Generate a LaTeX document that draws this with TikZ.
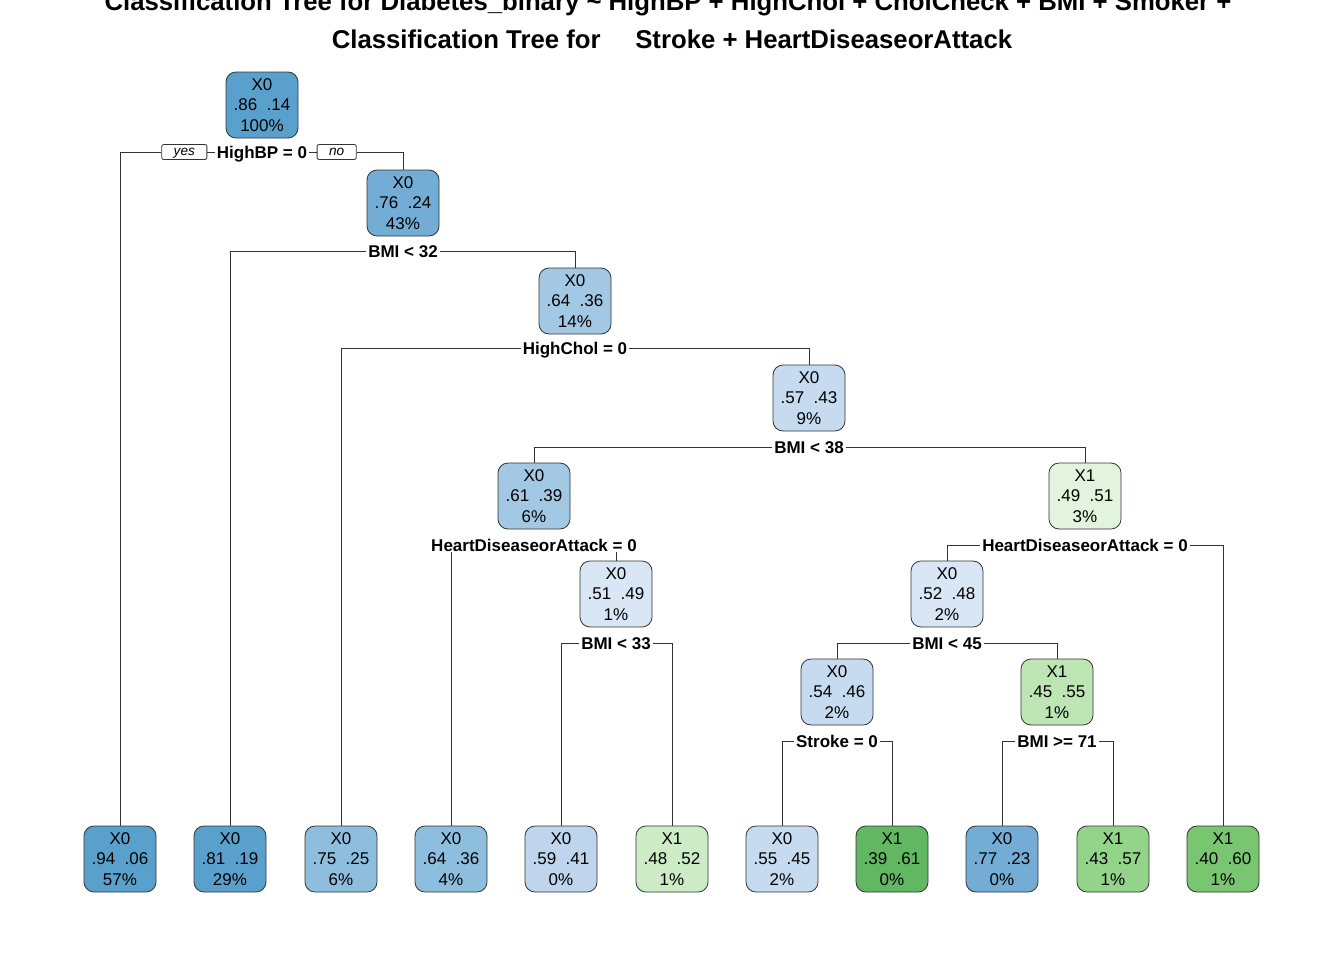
\documentclass[tikz,border=0pt]{standalone}
\usepackage{fontspec}
\setmainfont{Liberation Sans}
\usetikzlibrary{positioning}
\definecolor{blA}{RGB}{90,160,205}
\definecolor{blB}{RGB}{115,173,213}
\definecolor{blC}{RGB}{142,190,221}
\definecolor{blD}{RGB}{163,200,227}
\definecolor{blE}{RGB}{190,213,237}
\definecolor{blF}{RGB}{198,219,239}
\definecolor{blG}{RGB}{216,230,245}
\definecolor{grA}{RGB}{226,243,222}
\definecolor{grB}{RGB}{205,235,197}
\definecolor{grC}{RGB}{190,230,180}
\definecolor{grD}{RGB}{148,212,138}
\definecolor{grE}{RGB}{120,198,112}
\definecolor{grF}{RGB}{98,183,98}
\newcommand{\cls}[4]{#1\\#2\hspace{.556em}#3\\#4\%}
\begin{document}
\begin{tikzpicture}[
        x=0.75pt, y=-0.75pt,
        node distance = 5.5pt,
        box/.style = {rectangle, rounded corners=7.5pt, draw=black!80, line width=0.6pt,
          minimum width=54pt, minimum height=49.5pt, inner sep=0pt, align=center,
          font=\fontsize{12.75}{15.4}\selectfont},
        splt/.style = {fill=white, inner xsep=1.5pt, inner ysep=0pt, text height=1.0em,
          text depth=0.08em, font=\fontsize{12.75}{15}\selectfont\bfseries},
        yn/.style = {rectangle, rounded corners=1.5pt, draw=black!80, line width=0.6pt,
          fill=white, inner xsep=9pt, inner ysep=0pt, minimum height=11.25pt,
          text height=0.52em, text depth=0pt,
          font=\fontsize{10.2}{12}\selectfont\itshape},
        ttl/.style = {anchor=base, font=\fontsize{19.3}{23}\selectfont\bfseries},
        pil/.style = {black!80, line width=0.6pt}
        ]
        \fill[white, use as bounding box] (0,0) rectangle (1344,960);
        % title
        \node[ttl] (t1) at (668,11) {Classification Tree for Diabetes\_binary \textasciitilde{} HighBP + HighChol + CholCheck + BMI + Smoker +};
        \node[ttl] (t2) at (672,48) {Classification Tree for\hspace{26pt}Stroke + HeartDiseaseorAttack};
        % inner nodes
        \node[box, fill=blA] (n1) at (262,105) {\cls{X0}{.86}{.14}{100}};
        \node[box, fill=blB] (n3) at (403,203) {\cls{X0}{.76}{.24}{43}};
        \node[box, fill=blD] (n7) at (575,301) {\cls{X0}{.64}{.36}{14}};
        \node[box, fill=blF] (n15) at (809,398) {\cls{X0}{.57}{.43}{9}};
        \node[box, fill=blD] (n30) at (534,496) {\cls{X0}{.61}{.39}{6}};
        \node[box, fill=grA] (n31) at (1085,496) {\cls{X1}{.49}{.51}{3}};
        \node[box, fill=blG] (n61) at (616,594) {\cls{X0}{.51}{.49}{1}};
        \node[box, fill=blG] (n62) at (947,594) {\cls{X0}{.52}{.48}{2}};
        \node[box, fill=blF] (n124) at (837,692) {\cls{X0}{.54}{.46}{2}};
        \node[box, fill=grC] (n125) at (1057,692) {\cls{X1}{.45}{.55}{1}};
        % leaves
        \node[box, fill=blA] (n2) at (120,859) {\cls{X0}{.94}{.06}{57}};
        \node[box, fill=blA] (n6) at (230,859) {\cls{X0}{.81}{.19}{29}};
        \node[box, fill=blC] (n14) at (341,859) {\cls{X0}{.75}{.25}{6}};
        \node[box, fill=blC] (n60) at (451,859) {\cls{X0}{.64}{.36}{4}};
        \node[box, fill=blE] (n122) at (561,859) {\cls{X0}{.59}{.41}{0}};
        \node[box, fill=grB] (n123) at (672,859) {\cls{X1}{.48}{.52}{1}};
        \node[box, fill=blF] (n248) at (782,859) {\cls{X0}{.55}{.45}{2}};
        \node[box, fill=grF] (n249) at (892,859) {\cls{X1}{.39}{.61}{0}};
        \node[box, fill=blB] (n250) at (1002,859) {\cls{X0}{.77}{.23}{0}};
        \node[box, fill=grD] (n251) at (1113,859) {\cls{X1}{.43}{.57}{1}};
        \node[box, fill=grE] (n63) at (1223,859) {\cls{X1}{.40}{.60}{1}};
        % splits
        \node[splt] (s1) at (262,152) {HighBP = 0};
        \node[yn, left=of s1] (yes) {yes};
        \node[yn, right=of s1] (no) {no};
        \node[splt] (s3) at (403,251) {BMI < 32};
        \node[splt] (s7) at (575,348) {HighChol = 0};
        \node[splt] (s15) at (809,447) {BMI < 38};
        \node[splt] (s30) at (534,545) {HeartDiseaseorAttack = 0};
        \node[splt] (s31) at (1085,545) {HeartDiseaseorAttack = 0};
        \node[splt] (s61) at (616,643) {BMI < 33};
        \node[splt] (s62) at (947,643) {BMI < 45};
        \node[splt] (s124) at (837,741) {Stroke = 0};
        \node[splt] (s125) at (1057,741) {BMI >= 71};

        \draw[pil] (s1.west) -- (yes.east)
        (yes.west) -| (n2.north)
        (s1.east) -- (no.west)
        (no.east) -| (n3.north)
        (s3.west) -| (n6.north)
        (s3.east) -| (n7.north)
        (s7.west) -| (n14.north)
        (s7.east) -| (n15.north)
        (s15.west) -| (n30.north)
        (s15.east) -| (n31.north)
        (s30.south -| n60.north) -- (n60.north)
        (s30.south -| n61.north) -- (n61.north)
        (s61.west) -| (n122.north)
        (s61.east) -| (n123.north)
        (s31.west) -| (n62.north)
        (s31.east) -| (n63.north)
        (s62.west) -| (n124.north)
        (s62.east) -| (n125.north)
        (s124.west) -| (n248.north)
        (s124.east) -| (n249.north)
        (s125.west) -| (n250.north)
        (s125.east) -| (n251.north);

      \end{tikzpicture}
\end{document}
